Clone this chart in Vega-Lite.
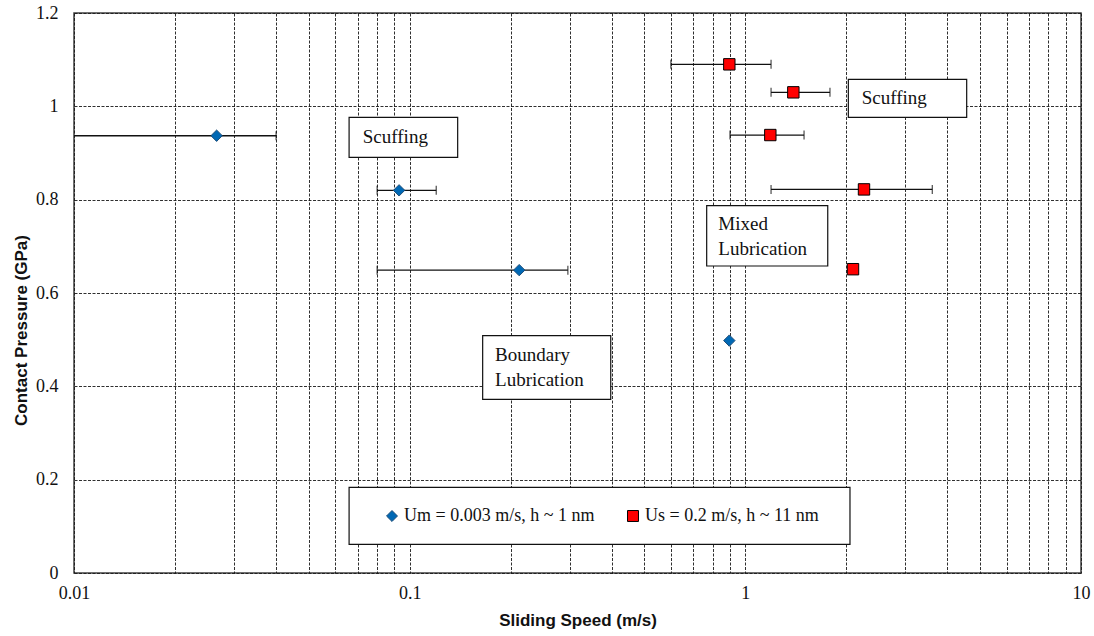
{
  "$schema": "https://vega.github.io/schema/vega-lite/v6.json",
  "autosize": "none",
  "width": 1007,
  "height": 560,
  "padding": {"left": 74, "top": 13, "right": 13, "bottom": 63},
  "background": "white",
  "config": {
    "view": {"stroke": "#404040", "strokeWidth": 1.5},
    "axis": {
      "labelFont": "Liberation Serif",
      "labelFontSize": 18,
      "labelColor": "#111",
      "titleFont": "Liberation Sans",
      "titleFontSize": 17,
      "titleFontWeight": "bold",
      "titleColor": "#111",
      "ticks": false,
      "domain": false,
      "grid": true,
      "gridColor": "#1a1a1a",
      "gridDash": [3, 1.5],
      "gridWidth": 1,
      "gridOpacity": 0.9
    }
  },
  "datasets": {
    "points": [
      {"series": "Um = 0.003 m/s, h ~ 1 nm", "speed": 0.0266, "pressure": 0.937, "lo": 0.008, "hi": 0.040},
      {"series": "Um = 0.003 m/s, h ~ 1 nm", "speed": 0.093, "pressure": 0.820, "lo": 0.080, "hi": 0.120},
      {"series": "Um = 0.003 m/s, h ~ 1 nm", "speed": 0.212, "pressure": 0.649, "lo": 0.080, "hi": 0.296},
      {"series": "Um = 0.003 m/s, h ~ 1 nm", "speed": 0.896, "pressure": 0.498, "lo": null, "hi": null},
      {"series": "Us = 0.2 m/s, h ~ 11 nm", "speed": 0.896, "pressure": 1.090, "lo": 0.600, "hi": 1.193},
      {"series": "Us = 0.2 m/s, h ~ 11 nm", "speed": 1.39, "pressure": 1.030, "lo": 1.193, "hi": 1.787},
      {"series": "Us = 0.2 m/s, h ~ 11 nm", "speed": 1.187, "pressure": 0.9385, "lo": 0.900, "hi": 1.496},
      {"series": "Us = 0.2 m/s, h ~ 11 nm", "speed": 2.257, "pressure": 0.822, "lo": 1.193, "hi": 3.606},
      {"series": "Us = 0.2 m/s, h ~ 11 nm", "speed": 2.093, "pressure": 0.651, "lo": null, "hi": null}
    ],
    "boxes": [
      {"name": "scuffing1", "x1": 0.0660, "x2": 0.1390, "y1": 0.8908, "y2": 0.9765},
      {"name": "scuffing2", "x1": 2.027, "x2": 4.565, "y1": 0.9765, "y2": 1.0579},
      {"name": "mixed", "x1": 0.7671, "x2": 1.760, "y1": 0.6579, "y2": 0.7871},
      {"name": "boundary", "x1": 0.1650, "x2": 0.3972, "y1": 0.3722, "y2": 0.5085},
      {"name": "legend", "x1": 0.0660, "x2": 2.050, "y1": 0.0615, "y2": 0.1836}
    ],
    "labels": [
      {"text": "Scuffing", "x": 0.0725, "y": 0.9349},
      {"text": "Scuffing", "x": 2.222, "y": 1.0172},
      {"text": "Mixed", "x": 0.8308, "y": 0.7472},
      {"text": "Lubrication", "x": 0.8308, "y": 0.6943},
      {"text": "Boundary", "x": 0.1796, "y": 0.4672},
      {"text": "Lubrication", "x": 0.1796, "y": 0.4143}
    ]
  },
  "layer": [
    {
      "data": {"name": "boxes"},
      "mark": {"type": "rect", "fill": "white", "stroke": "#111", "strokeWidth": 1.2},
      "encoding": {
        "x": {"field": "x1", "type": "quantitative", "scale": {"type": "log", "domain": [0.01, 10]},
          "axis": {
            "title": "Sliding Speed (m/s)",
            "values": [0.01, 0.02, 0.03, 0.04, 0.05, 0.06, 0.07, 0.08, 0.09, 0.1, 0.2, 0.3, 0.4, 0.5, 0.6, 0.7, 0.8, 0.9, 1, 2, 3, 4, 5, 6, 7, 8, 9, 10],
            "format": "~g",
            "labelExpr": "indexof([0.01, 0.1, 1, 10], datum.value) >= 0 ? datum.label : ''",
            "labelOverlap": false,
            "labelFlush": false,
            "labelPadding": 11,
            "titlePadding": 10
          }},
        "x2": {"field": "x2"},
        "y": {"field": "y1", "type": "quantitative", "scale": {"domain": [0, 1.2], "nice": false},
          "axis": {
            "title": "Contact Pressure  (GPa)",
            "values": [0, 0.2, 0.4, 0.6, 0.8, 1, 1.2],
            "format": "~g",
            "labelPadding": 16,
            "titlePadding": 5,
            "titleY": 317
          }},
        "y2": {"field": "y2"}
      }
    },
    {
      "data": {"name": "labels"},
      "mark": {"type": "text", "font": "Liberation Serif", "fontSize": 19, "align": "left", "baseline": "middle", "color": "#111"},
      "encoding": {
        "x": {"field": "x", "type": "quantitative"},
        "y": {"field": "y", "type": "quantitative"},
        "text": {"field": "text"}
      }
    },
    {
      "data": {"name": "points"},
      "transform": [{"filter": "datum.lo != null"}],
      "mark": {"type": "rule", "color": "#111", "strokeWidth": 1.3, "clip": true},
      "encoding": {
        "x": {"field": "lo", "type": "quantitative"},
        "x2": {"field": "hi"},
        "y": {"field": "pressure", "type": "quantitative"}
      }
    },
    {
      "data": {"name": "points"},
      "transform": [{"filter": "datum.lo != null"}],
      "mark": {"type": "tick", "orient": "vertical", "color": "#111", "thickness": 1.3, "size": 9, "clip": true},
      "encoding": {
        "x": {"field": "lo", "type": "quantitative"},
        "y": {"field": "pressure", "type": "quantitative"}
      }
    },
    {
      "data": {"name": "points"},
      "transform": [{"filter": "datum.lo != null"}],
      "mark": {"type": "tick", "orient": "vertical", "color": "#111", "thickness": 1.3, "size": 9, "clip": true},
      "encoding": {
        "x": {"field": "hi", "type": "quantitative"},
        "y": {"field": "pressure", "type": "quantitative"}
      }
    },
    {
      "data": {"name": "points"},
      "mark": {"type": "point", "filled": true, "size": 130, "strokeWidth": 1, "opacity": 1},
      "encoding": {
        "x": {"field": "speed", "type": "quantitative"},
        "y": {"field": "pressure", "type": "quantitative"},
        "fill": {"field": "series", "type": "nominal",
          "scale": {"domain": ["Um = 0.003 m/s, h ~ 1 nm", "Us = 0.2 m/s, h ~ 11 nm"], "range": ["#0068B4", "#FF0000"]},
          "legend": {
            "title": null,
            "orient": "none",
            "direction": "horizontal",
            "legendX": 309,
            "legendY": 494,
            "padding": 0,
            "labelFont": "Liberation Serif",
            "labelFontSize": 18,
            "labelColor": "#111",
            "labelLimit": 0,
            "labelOffset": 3,
            "columnPadding": 29,
            "symbolSize": 120,
            "symbolStrokeWidth": 1
          }},
        "stroke": {"field": "series", "type": "nominal",
          "scale": {"domain": ["Um = 0.003 m/s, h ~ 1 nm", "Us = 0.2 m/s, h ~ 11 nm"], "range": ["#1F4E79", "#000000"]}},
        "shape": {"field": "series", "type": "nominal",
          "scale": {"domain": ["Um = 0.003 m/s, h ~ 1 nm", "Us = 0.2 m/s, h ~ 11 nm"], "range": ["diamond", "square"]}}
      }
    }
  ]
}
